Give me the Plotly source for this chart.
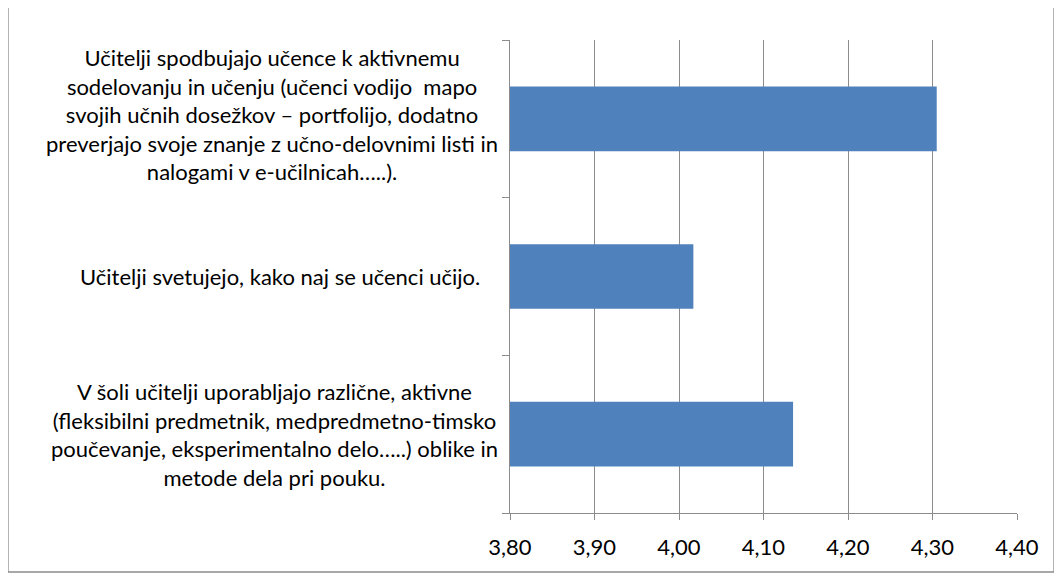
import plotly.graph_objects as go

categories = [
    "Učitelji spodbujajo učence k aktivnemu<br>sodelovanju in učenju (učenci vodijo  mapo<br>svojih učnih dosežkov – portfolijo, dodatno<br>preverjajo svoje znanje z učno-delovnimi listi in<br>nalogami v e-učilnicah…..).",
    "Učitelji svetujejo, kako naj se učenci učijo.",
    "V šoli učitelji uporabljajo različne, aktivne<br>(fleksibilni predmetnik, medpredmetno-timsko<br>poučevanje, eksperimentalno delo…..) oblike in<br>metode dela pri pouku.",
]
values = [4.305, 4.017, 4.135]
tick_vals = [3.8, 3.9, 4.0, 4.1, 4.2, 4.3, 4.4]

# page has an 8px body margin, so the figure is 8px smaller and offset
OFF = 8
W, H = 1062 - OFF, 579 - OFF
L, R, T, B = 510 - OFF, 45, 40 - OFF, 66
pw, ph = W - L - R, H - T - B

ids = ["c0", "c1", "c2"]

fig = go.Figure(go.Bar(
    x=values, y=ids, orientation="h",
    marker=dict(color="#4F81BD", line=dict(width=0)),
    width=0.41,
))

FONT = "Lato, Noto Sans, sans-serif"

annotations = []
for cid, txt, ys, cx in zip(ids, categories, [4, 0, 0], [272, 280, 274]):
    annotations.append(dict(
        x=(cx - OFF - L) / pw, xref="paper", y=cid, yref="y", yshift=ys,
        text=txt, showarrow=False, xanchor="center", yanchor="middle",
        align="center", font=dict(family=FONT, size=22, color="#000000"),
    ))

fig.update_layout(
    width=W, height=H,
    margin=dict(l=L, r=R, t=T, b=B),
    paper_bgcolor="white", plot_bgcolor="white",
    separators=", ",
    showlegend=False,
    annotations=annotations,
    font=dict(family=FONT, color="#000000"),
    xaxis=dict(
        range=[3.8, 4.4], tickvals=tick_vals, tickformat=".2f",
        showgrid=True, gridcolor="#8C8C8C", gridwidth=1.3,
        showline=True, linecolor="#8C8C8C", linewidth=1.3,
        ticks="outside", ticklen=6, tickcolor="#8C8C8C", tickwidth=1.3,
        tickfont=dict(size=22, family=FONT, color="#000000"),
        ticklabelstandoff=8,
        zeroline=False, fixedrange=True,
    ),
    yaxis=dict(
        categoryorder="array", categoryarray=ids[::-1],
        showticklabels=False, showgrid=False,
        showline=True, linecolor="#8C8C8C", linewidth=1.3,
        ticks="outside", ticklen=7, tickcolor="#8C8C8C", tickwidth=1.3,
        tickson="boundaries", zeroline=False, fixedrange=True,
        range=[-0.5, 2.5],
    ),
    shapes=[dict(
        type="rect", xref="paper", yref="paper",
        x0=(8 - OFF - L) / pw, x1=(1054 - OFF - L) / pw,
        y0=(H - B - (572 - OFF)) / ph, y1=(H - B - (7 - OFF)) / ph,
        line=dict(color="#8C8C8C", width=1.3), fillcolor="rgba(0,0,0,0)",
        layer="below",
    )],
)

fig.write_html("out.html")
